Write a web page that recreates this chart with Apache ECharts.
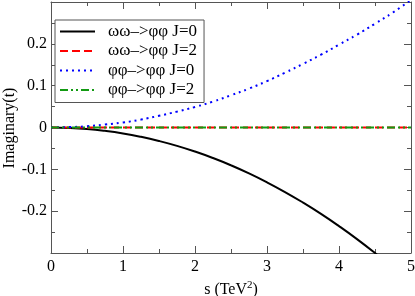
<!DOCTYPE html>
<html><head><meta charset="utf-8">
<script src="https://cdn.jsdelivr.net/npm/echarts@6/dist/echarts.min.js"></script>
<style>html,body{margin:0;padding:0;background:#fff}#c{width:415px;height:296px}</style>
</head><body><div id="c"></div>
<script>
var sValues = [0,0.25,0.5,0.75,1,1.25,1.5,1.75,2,2.25,2.5,2.75,3,3.25,3.5,3.75,4,4.25,4.5,4.75,5];
var wwJ0 = [0,-0.0009,-0.0035,-0.008,-0.0142,-0.0223,-0.0322,-0.0439,-0.0575,-0.073,-0.0904,-0.1097,-0.131,-0.1542,-0.1794,-0.2065,-0.2357,-0.2668,-0.3001,-0.3353,-0.3727];
var wwJ2 = [0,0,0,0,0,0,0,0,0,0,0,0,0,0,0,0,0,0,0,0,0];
var ppJ0 = [0,0.001,0.003,0.007,0.012,0.019,0.028,0.038,0.049,0.062,0.077,0.093,0.111,0.131,0.152,0.174,0.198,0.222,0.248,0.275,0.305];
var ppJ2 = [0,0,0,0,0,0,0,0,0,0,0,0,0,0,0,0,0,0,0,0,0];
var seriesNames = ['ωω–>φφ J=0','ωω–>φφ J=2','φφ–>φφ J=0','φφ–>φφ J=2'];
var xTicks = [0,1,2,3,4,5];
var yTickLabels = [-0.2,-0.1,0,0.1,0.2];
var yTitle = 'Imaginary(t)';

function pairs(ys){ return sValues.map(function(x,i){ return [x, ys[i]]; }); }
var font = '"Liberation Serif","DejaVu Serif",serif';
var axisColor = '#555';
var chart = echarts.init(document.getElementById('c'));
function xAx(pos, show){
  return {type:'value', position:pos, min:0, max:5, interval:1,
    axisLine:{show:true, onZero:false, lineStyle:{color:axisColor,width:1}},
    axisTick:{show:true, inside:true, length:7, lineStyle:{color:axisColor}},
    minorTick:{show:true, splitNumber:2, length:4, lineStyle:{color:axisColor}},
    splitLine:{show:false},
    axisLabel:{show:show, color:'#000', fontFamily:font, fontSize:16, margin:6,
      formatter:function(v){ return xTicks.indexOf(v)>=0 ? String(v) : ''; }},
    name: show ? 's (TeV{sup|2})' : '', nameLocation:'middle', nameGap:25,
    nameTextStyle:{color:'#000', fontFamily:font, fontSize:16,
      rich:{sup:{fontFamily:font, fontSize:11, verticalAlign:'top', padding:[0,0,8,0], color:'#000'}}}
  };
}
function yAx(pos, show){
  return {type:'value', position:pos, min:-0.3, max:0.3, interval:0.1,
    axisLine:{show:true, onZero:false, lineStyle:{color:axisColor,width:1}},
    axisTick:{show:true, inside:true, length:7, lineStyle:{color:axisColor}},
    minorTick:{show:true, splitNumber:2, length:4, lineStyle:{color:axisColor}},
    splitLine:{show:false},
    axisLabel:{show:show, color:'#000', fontFamily:font, fontSize:16, margin:4,
      formatter:function(v){
        var r = Math.round(v*10)/10;
        for (var i=0;i<yTickLabels.length;i++){ if (Math.abs(yTickLabels[i]-r)<1e-9) return r===0?'0':String(r); }
        return '';
      }}
  };
}
chart.setOption({
  animation:false,
  grid:{left:51, right:4, top:2, bottom:43, containLabel:false, outerBoundsMode:'none'},
  xAxis:[xAx('bottom',true), xAx('top',false)],
  yAxis:[yAx('left',true), yAx('right',false)],
  graphic:[{type:'text', x:10, y:128, rotation:Math.PI/2,
    style:{text:yTitle, fill:'#000', font:'16px "Liberation Serif", serif', textAlign:'center', textVerticalAlign:'middle'}}],
  legend:{orient:'vertical', left:55, top:20, itemWidth:35, itemHeight:14, itemGap:2.5,
    padding:[3,7,4,4], borderColor:'#555', borderWidth:1, backgroundColor:'#fff',
    textStyle:{fontFamily:font, fontSize:17, lineHeight:17, color:'#000', padding:[0,0,0,8]},
    itemStyle:{opacity:0},
    data:seriesNames},
  series:[
    {name:seriesNames[0], type:'line', data:pairs(wwJ0), symbol:'none', smooth:true, z:3,
      lineStyle:{color:'#000', width:2}, itemStyle:{color:'#000'}},
    {name:seriesNames[1], type:'line', data:pairs(wwJ2), symbol:'none', z:4,
      lineStyle:{color:'#ff0000', width:2, type:[8,4]}, itemStyle:{color:'#ff0000'}},
    {name:seriesNames[2], type:'line', data:pairs(ppJ0), symbol:'none', smooth:true, z:5,
      lineStyle:{color:'#0000ff', width:2, type:[2,4]}, itemStyle:{color:'#0000ff'}},
    {name:seriesNames[3], type:'line', data:pairs(ppJ2), symbol:'none', z:6,
      lineStyle:{color:'#129a12', width:2, type:[8,3,2,3,2,3]}, itemStyle:{color:'#129a12'}}
  ]
});
</script></body></html>
